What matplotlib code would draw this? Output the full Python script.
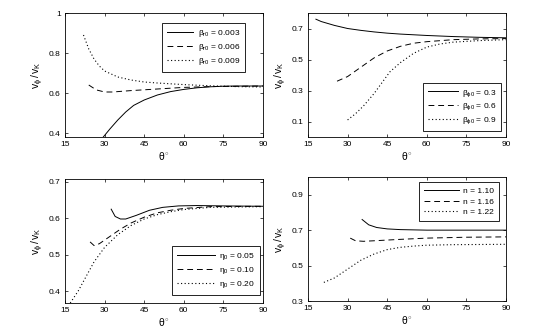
import matplotlib
matplotlib.use("Agg")
import matplotlib.pyplot as plt
from matplotlib.ticker import FuncFormatter

plt.rcParams['font.family'] = ['Liberation Sans', 'DejaVu Sans']
plt.rcParams['font.size'] = 6.5
plt.rcParams['mathtext.fontset'] = 'custom'
plt.rcParams['mathtext.rm'] = 'Liberation Sans'
plt.rcParams['mathtext.it'] = 'Liberation Sans'

# panel a: beta_r0
a_lab = [r'$\beta_{\rm r0}$ = 0.003', r'$\beta_{\rm r0}$ = 0.006', r'$\beta_{\rm r0}$ = 0.009']
a1_x = [29.5, 32, 35, 38, 41, 45, 50, 55, 60, 65, 70, 75, 80, 90]
a1_y = [0.38, 0.42, 0.465, 0.505, 0.538, 0.565, 0.59, 0.607, 0.618, 0.626, 0.631, 0.634, 0.635, 0.635]
a2_x = [24, 25.5, 27, 30, 33, 40, 50, 60, 70, 90]
a2_y = [0.64, 0.627, 0.615, 0.605, 0.605, 0.612, 0.62, 0.628, 0.632, 0.635]
a3_x = [22, 24, 26, 28, 30, 35, 40, 45, 50, 60, 70, 80, 90]
a3_y = [0.89, 0.82, 0.77, 0.735, 0.71, 0.68, 0.665, 0.655, 0.65, 0.642, 0.636, 0.632, 0.63]

# panel b: beta_phi0
b_lab = [r'$\beta_{\phi0}$ = 0.3', r'$\beta_{\phi0}$ = 0.6', r'$\beta_{\phi0}$ = 0.9']
b1_x = [18, 20, 25, 30, 35, 40, 45, 50, 60, 70, 80, 90]
b1_y = [0.76, 0.745, 0.72, 0.70, 0.688, 0.678, 0.67, 0.664, 0.655, 0.648, 0.643, 0.64]
b2_x = [26, 28, 30, 35, 40, 45, 50, 55, 60, 70, 80, 90]
b2_y = [0.36, 0.375, 0.39, 0.45, 0.51, 0.555, 0.585, 0.605, 0.615, 0.628, 0.633, 0.635]
b3_x = [30, 33, 36, 40, 43, 46, 50, 55, 60, 65, 70, 80, 90]
b3_y = [0.11, 0.15, 0.2, 0.28, 0.35, 0.42, 0.48, 0.54, 0.58, 0.6, 0.612, 0.622, 0.628]

# panel c: eta_0
c_lab = [r'$\eta_0$ = 0.05', r'$\eta_0$ = 0.10', r'$\eta_0$ = 0.20']
c1_x = [32.5, 34, 36, 38, 42, 47, 52, 58, 65, 75, 90]
c1_y = [0.625, 0.605, 0.598, 0.598, 0.608, 0.622, 0.63, 0.634, 0.635, 0.634, 0.633]
c2_x = [24.5, 26, 28, 32, 36, 40, 45, 50, 55, 60, 70, 90]
c2_y = [0.535, 0.525, 0.53, 0.55, 0.57, 0.587, 0.603, 0.615, 0.622, 0.627, 0.632, 0.633]
c3_x = [17, 20, 23, 26, 30, 35, 40, 45, 50, 55, 60, 70, 90]
c3_y = [0.367, 0.40, 0.44, 0.48, 0.52, 0.555, 0.58, 0.598, 0.61, 0.618, 0.624, 0.63, 0.632]

# panel d: n
d_lab = ['n = 1.10', 'n = 1.16', 'n = 1.22']
d1_x = [35.5, 38, 41, 45, 50, 60, 90]
d1_y = [0.76, 0.73, 0.715, 0.707, 0.703, 0.70, 0.70]
d2_x = [31, 33, 36, 40, 50, 60, 75, 90]
d2_y = [0.655, 0.64, 0.637, 0.64, 0.648, 0.655, 0.66, 0.662]
d3_x = [21, 25, 30, 35, 40, 45, 50, 55, 60, 70, 90]
d3_y = [0.405, 0.43, 0.48, 0.53, 0.565, 0.59, 0.603, 0.61, 0.615, 0.618, 0.62]

fig = plt.figure(figsize=(5.54, 3.32), dpi=100)
W, H = 554.0, 332.0

def box(l, t, r, b):
    return [l / W, 1 - b / H, (r - l) / W, (b - t) / H]

styles = [dict(ls='-', lw=0.7), dict(ls=(0, (6, 4)), lw=0.7), dict(ls=(0, (1, 2.2)), lw=0.8)]

def panel(rect, series, labels, ylim, yticks, loc, anchor, hlen):
    ax = fig.add_axes(rect)
    for (x, y), st, lab in zip(series, styles, labels):
        ax.plot(x, y, color='black', label=lab, **st)
    ax.set_xlim(15, 90)
    ax.set_ylim(*ylim)
    ax.set_xticks([15, 30, 45, 60, 75, 90])
    ax.set_yticks(yticks)
    ax.yaxis.set_major_formatter(FuncFormatter(lambda v, p: '%g' % v))
    ax.tick_params(direction='in', top=True, right=True, length=2.5, width=0.5, pad=3, labelsize=6)
    for s in ax.spines.values():
        s.set_linewidth(0.6)
    ax.set_xlabel(r'$\theta^{\circ}$', labelpad=1, fontsize=7.5)
    ax.set_ylabel(r'$\mathrm{v}_{\phi}\,/\,\mathrm{v}_{\mathrm{K}}$', labelpad=2, fontsize=7.5)
    leg = ax.legend(loc=loc, bbox_to_anchor=anchor, fancybox=False, edgecolor='black',
                    framealpha=1, handlelength=hlen, handletextpad=0.5, borderpad=0.6,
                    labelspacing=0.35, fontsize=6, borderaxespad=0)
    leg.get_frame().set_linewidth(0.6)
    return ax

panel(box(65, 13, 263, 137), [(a1_x, a1_y), (a2_x, a2_y), (a3_x, a3_y)], a_lab,
      (0.38, 1.0), [0.4, 0.6, 0.8, 1.0], 'upper right', (0.909, 0.919), 3.2)
panel(box(308, 13, 506, 137), [(b1_x, b1_y), (b2_x, b2_y), (b3_x, b3_y)], b_lab,
      (0.0, 0.8), [0.1, 0.3, 0.5, 0.7], 'lower right', (0.975, 0.048), 3.6)
panel(box(65, 179, 263, 303), [(c1_x, c1_y), (c2_x, c2_y), (c3_x, c3_y)], c_lab,
      (0.367, 0.708), [0.4, 0.5, 0.6, 0.7], 'lower right', (0.985, 0.065), 4.6)
panel(box(308, 177, 506, 301), [(d1_x, d1_y), (d2_x, d2_y), (d3_x, d3_y)], d_lab,
      (0.3, 1.0), [0.3, 0.5, 0.7, 0.9], 'upper right', (0.965, 0.96), 4.2)

fig.savefig('out.png', dpi=100)
